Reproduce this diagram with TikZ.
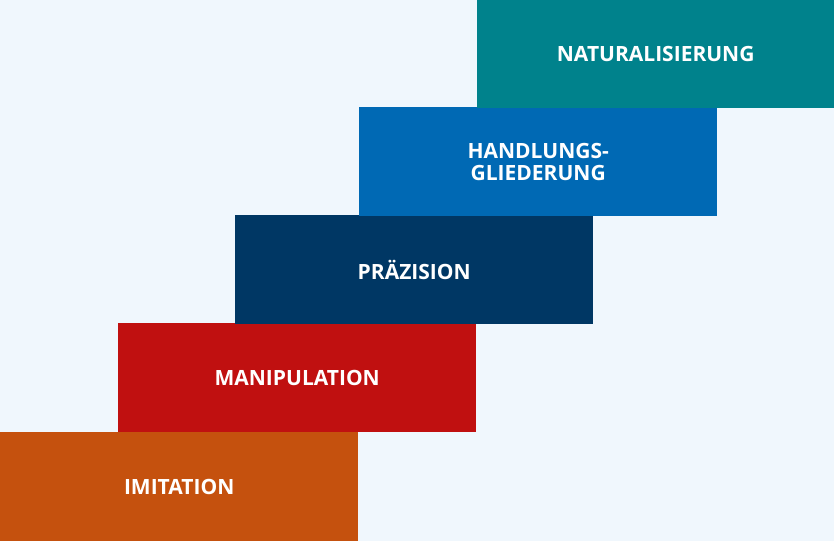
\documentclass[tikz,border=0pt]{standalone}
\usepackage{fontspec}
\setmainfont{Open Sans}
\definecolor{bg}{HTML}{F0F7FD}
\definecolor{cA}{HTML}{C5510E}
\definecolor{cB}{HTML}{C01010}
\definecolor{cC}{HTML}{003764}
\definecolor{cD}{HTML}{0069B4}
\definecolor{cE}{HTML}{00828C}
\begin{document}
\begin{tikzpicture}[x=1pt,y=1pt,
  stepbox/.style={draw=none,minimum width=358pt,minimum height=108.5pt,inner sep=0pt,
    text=white,font=\fontsize{21}{22}\selectfont\bfseries,align=center,anchor=south west}]
\fill[bg] (0,0) rectangle (834,541);
\useasboundingbox (0,0) rectangle (834,541);
\node[stepbox,fill=cA] (imit) at (0,0) {IMITATION};
\node[stepbox,fill=cB] (mani) at (118,109) {MANIPULATION};
\node[stepbox,fill=cC] (praez) at (235,217) {PRÄZISION};
\node[stepbox,fill=cD] (handl) at (359,325) {HANDLUNGS-\\GLIEDERUNG};
\node[stepbox,fill=cE,minimum width=357pt] (natur) at (477,433) {NATURALISIERUNG};
\end{tikzpicture}
\end{document}
